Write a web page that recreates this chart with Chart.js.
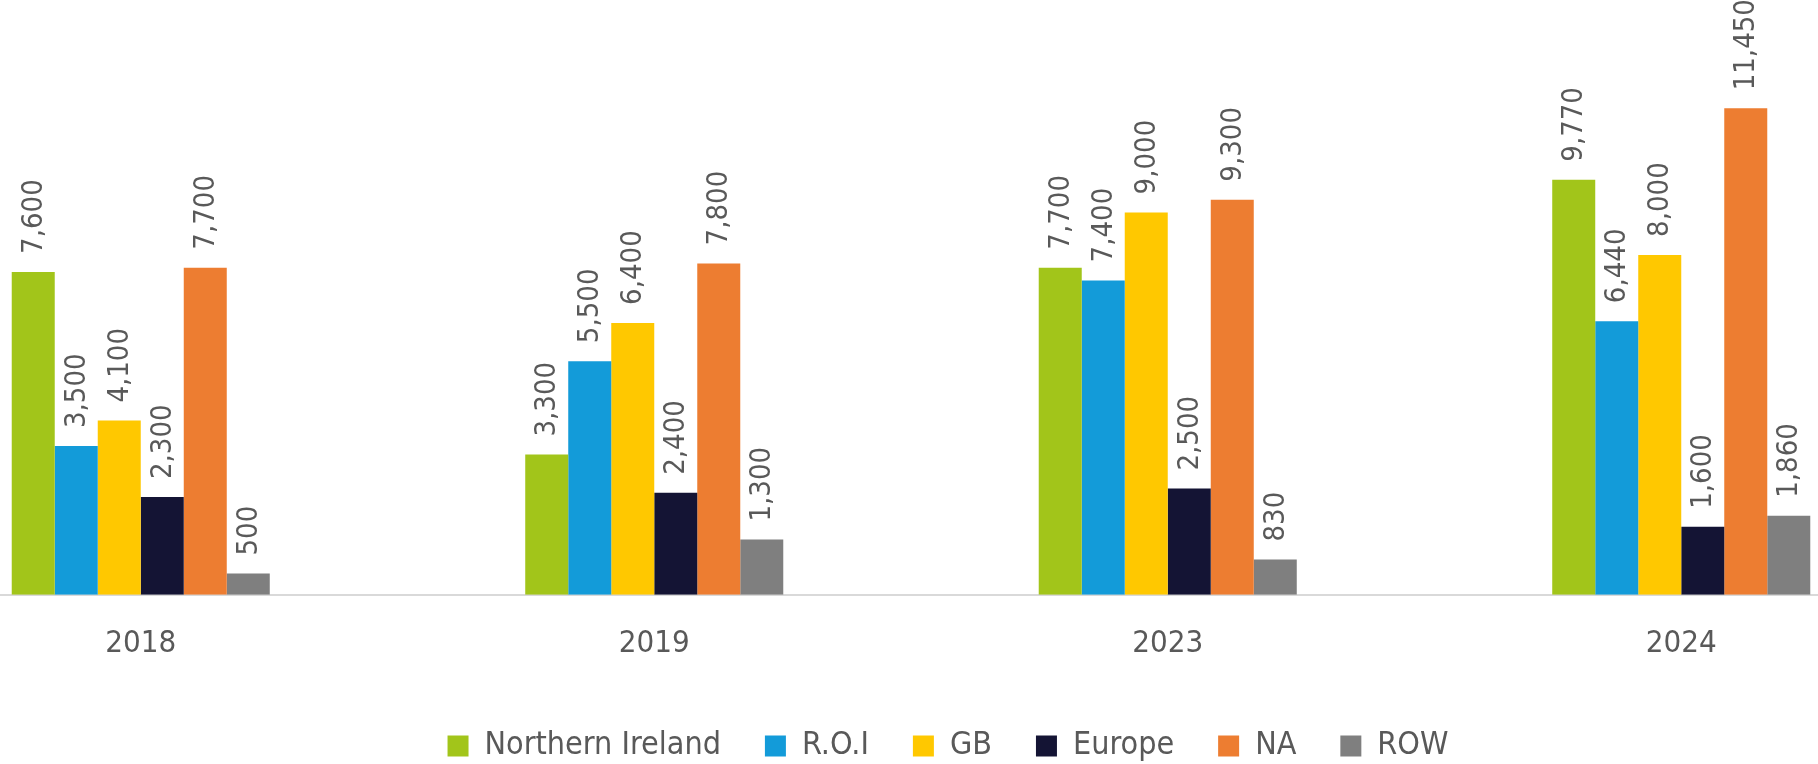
<!DOCTYPE html>
<html>
<head>
<meta charset="utf-8">
<script src="https://cdn.jsdelivr.net/npm/chart.js@4"></script>
<style>
  html, body { margin: 0; padding: 0; background: #fff; overflow: hidden; }
  body { width: 1818px; height: 764px; }
  /* plot area runs past both window edges, like the original */
  #wrap { position: relative; left: -116px; width: 2054px; height: 772px; }
</style>
</head>
<body>
<div id="wrap"><canvas id="myChart"></canvas></div>
<script>
const years = ['2018', '2019', '2023', '2024'];
const northernIreland = [7600, 3300, 7700, 9770];
const roi = [3500, 5500, 7400, 6440];
const gb = [4100, 6400, 9000, 8000];
const europe = [2300, 2400, 2500, 1600];
const na = [7700, 7800, 9300, 11450];
const row = [500, 1300, 830, 1860];

const fontFam = "'DejaVu Sans Condensed', 'Liberation Sans Narrow', Roboto, sans-serif";
const textColor = '#595959';

// rotated value labels above each bar
const barLabels = {
    id: 'barLabels',
    afterDatasetsDraw(chart) {
        const ctx = chart.ctx;
        ctx.save();
        ctx.font = '29px ' + fontFam;
        ctx.fillStyle = textColor;
        ctx.textAlign = 'left';
        ctx.textBaseline = 'middle';
        chart.data.datasets.forEach((ds, i) => {
            const meta = chart.getDatasetMeta(i);
            meta.data.forEach((bar, j) => {
                ctx.save();
                ctx.translate(bar.x + 1, bar.y - 18);
                ctx.rotate(-Math.PI / 2);
                ctx.fillText(ds.data[j].toLocaleString('en-US'), 0, 0);
                ctx.restore();
            });
        });
        ctx.restore();
    }
};

// legend sits a bit right of centre in the original
const legendShift = {
    id: 'legendShift',
    afterLayout(chart) {
        chart.legend.left += 37;
        chart.legend.right += 37;
    }
};

const ctx = document.getElementById('myChart').getContext('2d');
const myChart = new Chart(ctx, {
    type: 'bar',
    data: {
        labels: years,
        datasets: [
            { label: 'Northern Ireland', data: northernIreland, backgroundColor: '#a2c51a' },
            { label: 'R.O.I', data: roi, backgroundColor: '#139bd9' },
            { label: 'GB', data: gb, backgroundColor: '#ffc800' },
            { label: 'Europe', data: europe, backgroundColor: '#141434' },
            { label: 'NA', data: na, backgroundColor: '#ed7d31' },
            { label: 'ROW', data: row, backgroundColor: '#7f7f7f' }
        ]
    },
    options: {
        responsive: true,
        maintainAspectRatio: false,
        animation: false,
        layout: { padding: 0 },
        datasets: { bar: { categoryPercentage: 0.5025, barPercentage: 1.0 } },
        scales: {
            x: {
                grid: { display: false },
                border: { display: true, color: '#d9d9d9', width: 2 },
                ticks: { color: textColor, font: { family: fontFam, size: 31 }, padding: 23 }
            },
            y: {
                display: false,
                min: 0,
                max: 14000
            }
        },
        plugins: {
            tooltip: { enabled: false },
            legend: {
                position: 'bottom',
                labels: {
                    color: textColor,
                    font: { family: fontFam, size: 32 },
                    boxWidth: 21,
                    boxHeight: 21,
                    padding: 44
                }
            }
        }
    },
    plugins: [barLabels, legendShift]
});
</script>
</body>
</html>
